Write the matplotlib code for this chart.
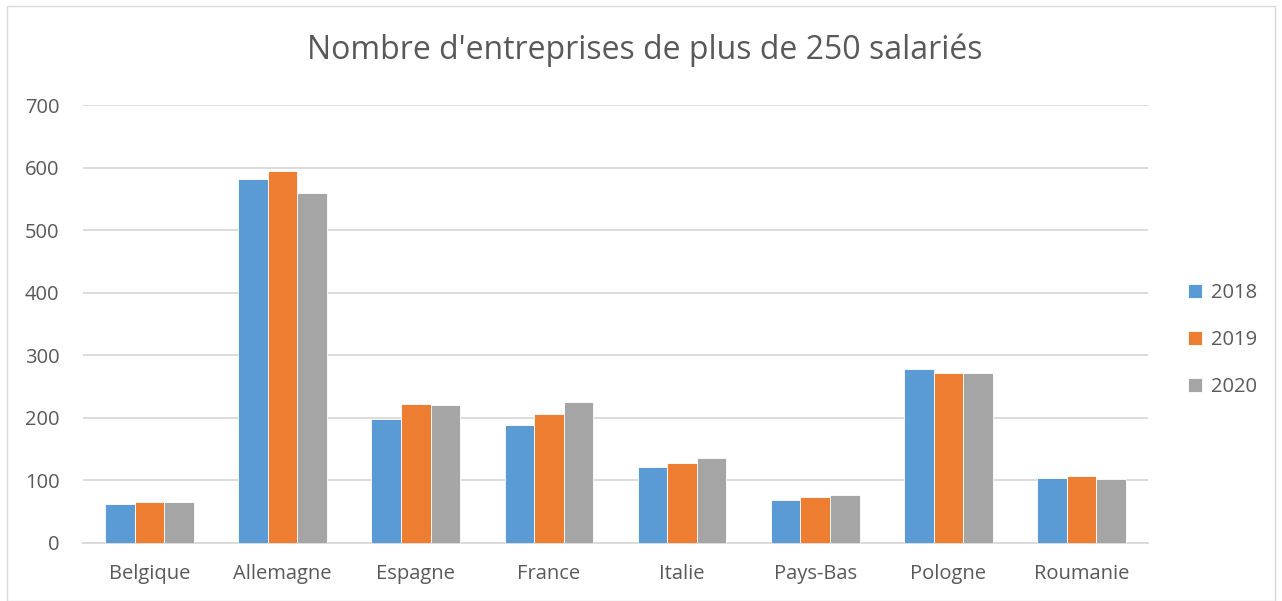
import matplotlib.pyplot as plt
import numpy as np
from matplotlib.patches import Rectangle

plt.rcParams['font.family'] = ['Open Sans', 'DejaVu Sans']

pays = ["Belgique", "Allemagne", "Espagne", "France", "Italie", "Pays-Bas", "Pologne", "Roumanie"]
annees = ["2018", "2019", "2020"]
v2018 = [63, 581, 198, 188, 121, 69, 278, 104]
v2019 = [66, 595, 222, 206, 128, 74, 271, 107]
v2020 = [66, 560, 220, 226, 136, 77, 271, 102]
couleurs = ["#5B9BD5", "#ED7D31", "#A5A5A5"]

fig = plt.figure(figsize=(12.82, 6.01), dpi=100)
ax = fig.add_axes([83 / 1282, 1 - 543 / 601, (1148 - 83) / 1282, (543 - 105) / 601])

x = np.arange(len(pays))
w = 1 / 4.5
for i, (vals, c, lab) in enumerate(zip([v2018, v2019, v2020], couleurs, annees)):
    ax.bar(x + (i - 1) * w, vals, width=w, color=c, label=lab,
           edgecolor="white", linewidth=0.6, zorder=3)

ax.set_xlim(-0.5, len(pays) - 0.5)
ax.set_ylim(0, 700)
ax.set_yticks(range(0, 701, 100))
ax.set_xticks(x)
ax.set_xticklabels(pays)
ax.grid(True, axis="y", color="#D9D9D9", linewidth=1.3, zorder=0)
for s in ["top", "right", "left"]:
    ax.spines[s].set_visible(False)
ax.spines["bottom"].set_color("#D9D9D9")
ax.spines["bottom"].set_linewidth(1.3)
ax.tick_params(axis="both", length=0, labelsize=14.5, colors="#595959")
ax.tick_params(axis="y", pad=17)
ax.tick_params(axis="x", pad=15)

fig.text(0.503, 1 - 50 / 601, "Nombre d'entreprises de plus de 250 salariés",
         ha="center", va="center", fontsize=23, color="#595959")

leg = fig.legend(loc="center left", bbox_to_anchor=(1170 / 1282, 1 - 340 / 601),
                 frameon=False, fontsize=14.5, labelspacing=1.35,
                 handlelength=0.7, handleheight=0.7, handletextpad=0.45)
for t in leg.get_texts():
    t.set_color("#595959")

fig.patches.append(Rectangle((7 / 1282, 0), 1268 / 1282, 1 - 6 / 601,
                             transform=fig.transFigure, fill=False,
                             edgecolor="#D9D9D9", linewidth=1))

plt.savefig("out.png", dpi=100)
